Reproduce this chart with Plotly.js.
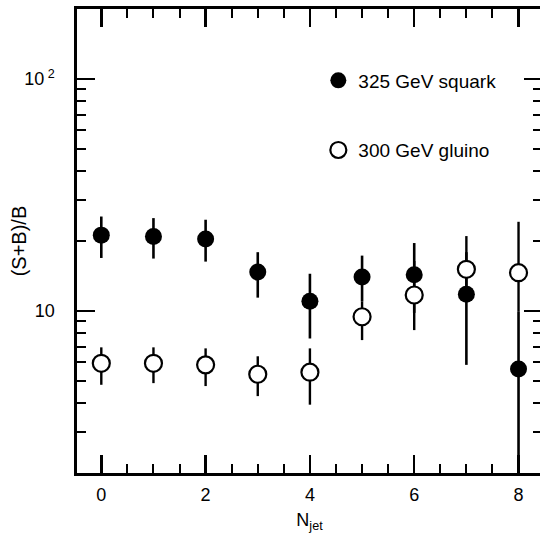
<!DOCTYPE html>
<html>
<head>
<meta charset="utf-8">
<script src="https://cdn.plot.ly/plotly-3.0.1.min.js"></script>
<style>
html,body{margin:0;padding:0;overflow:hidden;background:#fff;}
#chart{width:546px;height:533px;}
</style>
</head>
<body>
<div id="chart"></div>
<script>
// N_jet values
const njet = [0, 1, 2, 3, 4, 5, 6, 7, 8];

// 325 GeV squark: (S+B)/B with upper / lower error bar ends
const squarkY    = [21.2, 20.9, 20.4, 14.7, 11.0, 14.0, 14.3, 11.8, 5.62];
const squarkHigh = [25.5, 25.1, 24.7, 17.9, 14.45, 17.3, 19.6, 17.9, 9.9];
const squarkLow  = [16.9, 16.8, 16.3, 11.4, 7.6, 11.0, 9.8, 5.85, 1.0];

// 300 GeV gluino
const gluinoY    = [5.94, 5.94, 5.85, 5.33, 5.44, 9.43, 11.7, 15.1, 14.6];
const gluinoHigh = [6.96, 6.96, 6.89, 6.37, 6.89, 11.0, 16.4, 21.0, 24.2];
const gluinoLow  = [4.80, 4.88, 4.74, 4.29, 3.94, 7.48, 8.26, 11.3, 9.9];

// tick labels and axis titles
const yTickVals = [10, 100];
const yTickText = ['10', '10<sup> 2</sup>'];
const yMinorVals = [2,3,4,5,6,7,8,9,20,30,40,50,60,70,80,90,200];
const xTitle = 'N<sub>jet</sub>';
const yTitle = '(S+B)/B';

const seriesNames = ['325 GeV squark', '300 GeV gluino'];

const up = (v, h) => v.map((y, i) => h[i] - y);
const dn = (v, l) => v.map((y, i) => y - l[i]);

const FONT = 'Liberation Sans, Arial, Helvetica, sans-serif';

const traces = [
  {
    x: njet, y: squarkY, name: seriesNames[0], type: 'scatter', mode: 'markers',
    legendgroup: 'a',
    marker: {symbol: 'circle', size: 17, color: '#000', line: {width: 0}},
    error_y: {type: 'data', symmetric: false, array: up(squarkY, squarkHigh),
              arrayminus: dn(squarkY, squarkLow), width: 0, thickness: 2.6, color: '#000'}
  },
  {
    x: njet, y: gluinoY, name: seriesNames[1], type: 'scatter', mode: 'markers',
    legendgroup: 'b',
    marker: {symbol: 'circle', size: 17, color: '#fff', line: {width: 2.2, color: '#000'}},
    error_y: {type: 'data', symmetric: false, array: up(gluinoY, gluinoHigh),
              arrayminus: dn(gluinoY, gluinoLow), width: 0, thickness: 2.4, color: '#000'}
  }
];

const layout = {
  width: 546, height: 533,
  margin: {l: 77, r: 4, t: 9, b: 60},
  paper_bgcolor: '#fff', plot_bgcolor: '#fff',
  font: {family: FONT, size: 18, color: '#000'},
  showlegend: true,
  legend: {x: 0.519, xanchor: 'left', y: 0.887, yanchor: 'top',
           bgcolor: 'rgba(0,0,0,0)', borderwidth: 0, tracegroupgap: 42,
           font: {family: FONT, size: 19, color: '#000'}},
  xaxis: {
    range: [-0.466, 8.45], showgrid: false, zeroline: false,
    showline: true, linewidth: 2.6, linecolor: '#000', mirror: 'ticks',
    ticks: 'inside', dtick: 2, tick0: 0, ticklen: 18, tickwidth: 2.4, tickcolor: '#000',
    ticklabelstandoff: 4,
    minor: {dtick: 0.5, tick0: 0, ticks: 'inside', ticklen: 9, tickwidth: 2, tickcolor: '#000'},
    tickfont: {family: FONT, size: 18},
    title: {text: xTitle, font: {family: FONT, size: 18}, standoff: 10}
  },
  yaxis: {
    type: 'log', range: [Math.log10(2), Math.log10(200)],
    showgrid: false, zeroline: false,
    showline: true, linewidth: 2.6, linecolor: '#000', mirror: 'ticks',
    ticks: 'inside', tickmode: 'array', tickvals: yTickVals, ticktext: yTickText,
    ticklen: 18, tickwidth: 2.4, tickcolor: '#000', ticklabelstandoff: 16,
    minor: {tickmode: 'array', tickvals: yMinorVals, ticks: 'inside', ticklen: 9, tickwidth: 2, tickcolor: '#000'},
    tickfont: {family: FONT, size: 18}
  },
  annotations: [{
    text: yTitle, textangle: -90, showarrow: false,
    xref: 'paper', yref: 'paper', x: -0.124, y: 0.5,
    xanchor: 'center', yanchor: 'middle',
    font: {family: FONT, size: 20, color: '#000'}
  }]
};

Plotly.newPlot('chart', traces, layout, {staticPlot: true, displayModeBar: false});
</script>
</body>
</html>
